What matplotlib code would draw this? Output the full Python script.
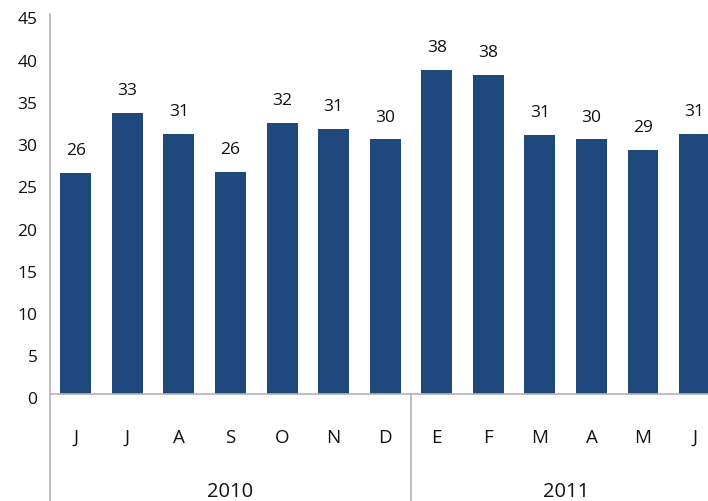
import matplotlib
matplotlib.use("Agg")
import matplotlib.pyplot as plt
import matplotlib.transforms as mtransforms

plt.rcParams['font.family'] = ['Open Sans', 'DejaVu Sans']

months = ['J', 'J', 'A', 'S', 'O', 'N', 'D', 'E', 'F', 'M', 'A', 'M', 'J']
values = [26.2, 33.3, 30.9, 26.4, 32.1, 31.4, 30.2, 38.4, 37.8, 30.7, 30.2, 29.0, 30.9]
years = ['2010', '2011']
year_spans = [(0, 6), (7, 12)]
yticks = [0, 5, 10, 15, 20, 25, 30, 35, 40, 45]

bar_color = '#1F497D'
line_color = '#B3B3B3'
text_color = '#111111'

fig = plt.figure(figsize=(7.08, 5.02), dpi=100)
ax = fig.add_axes([0.0706, 0.2122, 0.9294, 0.757])

x = list(range(len(months)))
ax.bar(x, values, width=0.6, color=bar_color, zorder=2)

for xi, v in zip(x, values):
    ax.annotate(f'{v:.0f}', (xi, v), xytext=(0, 16.5), textcoords='offset points',
                ha='center', va='center', fontsize=12.5, color=text_color)

ax.set_xlim(-0.5, 12.26)
ax.set_ylim(0, 45)
ax.set_yticks(yticks)
ax.set_xticks([])
ax.tick_params(axis='y', length=0, pad=9, labelsize=12.5, labelcolor=text_color)
offset = mtransforms.ScaledTranslation(0, -0.03, fig.dpi_scale_trans)
for lab in ax.get_yticklabels():
    lab.set_transform(lab.get_transform() + offset)

for s in ['top', 'right', 'left']:
    ax.spines[s].set_visible(False)
ax.spines['bottom'].set_color(line_color)
ax.spines['bottom'].set_linewidth(1.2)

# left axis line running down through the category area
ax.plot([0, 0], [1, -0.29], transform=ax.transAxes, color=line_color,
        lw=1.2, clip_on=False, zorder=3)

# separator between years
trans = mtransforms.blended_transform_factory(ax.transData, ax.transAxes)
ax.plot([6.5, 6.5], [0, -0.29], transform=trans, color=line_color,
        lw=1.2, clip_on=False)

for xi, m in zip(x, months):
    ax.text(xi, -0.112, m, transform=trans, ha='center', va='center',
            fontsize=13.5, color=text_color)

for yr, (a, b) in zip(years, year_spans):
    ax.text((a + b) / 2, -0.254, yr, transform=trans, ha='center', va='center',
            fontsize=14.5, color=text_color)

fig.savefig('out.png', dpi=100)
